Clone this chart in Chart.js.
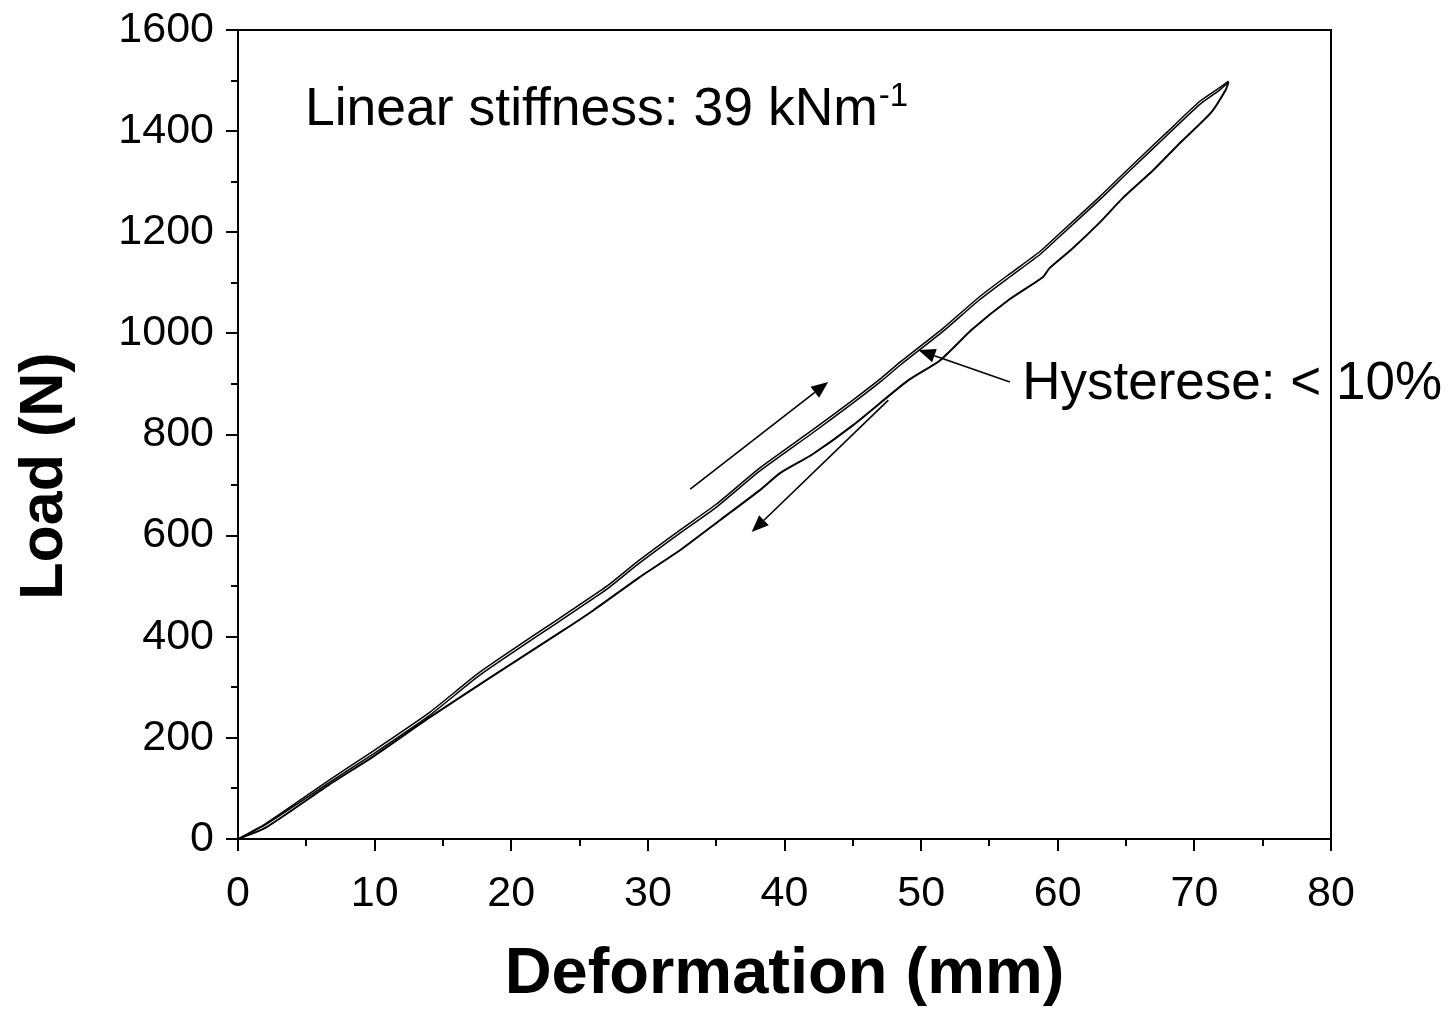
<!DOCTYPE html>
<html>
<head>
<meta charset="utf-8">
<script src="https://cdn.jsdelivr.net/npm/chart.js@4.4.1/dist/chart.umd.min.js"></script>
<style>
html, body { margin: 0; padding: 0; background: #fff; }
#contenedor { width: 1451px; height: 1014px; }
</style>
</head>
<body>
<div id="contenedor"><canvas id="grafico" width="1451" height="1014"></canvas></div>
<script>
// Carga (dos líneas casi superpuestas) - deformación en mm, carga en N
const deformacionCarga = [0, 2, 6.7, 10, 14, 17.7, 23.6, 27, 29.3, 32.4, 35, 38.2, 42, 45, 47.1, 48.5, 51.6, 54.3, 56.5, 58.7, 60.0, 63.1, 65.2, 68, 70.4, 71.8, 72.5];
const cargaA = [0, 30, 117, 176, 250, 330, 438, 500, 550, 612, 662, 734, 808, 868, 912, 944, 1010, 1073, 1118, 1162, 1194, 1271, 1326, 1398, 1459, 1485, 1499];
const cargaB = [0, 28, 112, 170, 244, 324, 432, 494, 544, 606, 656, 728, 802, 862, 906, 938, 1004, 1067, 1112, 1156, 1188, 1265, 1320, 1392, 1453, 1480, 1497];

// Descarga
const deformacionDescarga = [72.5, 72.3, 71.2, 69, 67.0, 64.7, 63.1, 61, 59.4, 58.9, 56.4, 53.7, 51.4, 49.0, 45, 42, 39.7, 38.2, 35.3, 32.4, 29.3, 26, 23.6, 18.4, 14, 10, 6.7, 2, 0];
const descarga = [1497, 1482, 1436, 1378, 1323, 1266, 1220, 1166, 1129, 1111, 1066, 1007, 947, 906, 818, 760, 724, 690, 631, 572, 516, 452, 409, 318, 240, 165, 108, 22, 0];

// Flechas de anotación (en unidades de datos): [x0, y0, x1, y1]
const flechas = [
    [33.1, 692, 43.2, 904],
    [47.6, 868, 37.6, 607],
    [56.5, 904, 49.8, 967]
];

const FUENTE = '"Liberation Sans", Arial, sans-serif';

function puntos(xs, ys) {
    return xs.map((x, i) => ({ x: x, y: ys[i] }));
}

function flecha(ctx, x0, y0, x1, y1) {
    const ang = Math.atan2(y1 - y0, x1 - x0);
    const largo = 17, ancho = 7;
    const bx = x1 - largo * Math.cos(ang);
    const by = y1 - largo * Math.sin(ang);
    ctx.beginPath();
    ctx.moveTo(x0, y0);
    ctx.lineTo(bx, by);
    ctx.stroke();
    ctx.beginPath();
    ctx.moveTo(x1, y1);
    ctx.lineTo(bx + ancho * Math.sin(ang), by - ancho * Math.cos(ang));
    ctx.lineTo(bx - ancho * Math.sin(ang), by + ancho * Math.cos(ang));
    ctx.closePath();
    ctx.fill();
}

const extras = {
    id: 'extras',
    afterDraw(chart) {
        const ctx = chart.ctx;
        const a = chart.chartArea;
        const x = chart.scales.x;
        const y = chart.scales.y;
        ctx.save();
        ctx.strokeStyle = '#000';
        ctx.fillStyle = '#000';

        // marco
        ctx.lineWidth = 2;
        ctx.strokeRect(a.left, a.top, a.right - a.left, a.bottom - a.top);

        // marcas de los ejes (mayores y menores)
        ctx.beginPath();
        for (let v = x.min; v <= x.max; v += 5) {
            const px = Math.round(x.getPixelForValue(v));
            const l = v % 10 === 0 ? 12 : 7;
            ctx.moveTo(px, a.bottom);
            ctx.lineTo(px, a.bottom + l);
        }
        for (let v = y.min; v <= y.max; v += 100) {
            const py = Math.round(y.getPixelForValue(v));
            const l = v % 200 === 0 ? 12 : 7;
            ctx.moveTo(a.left, py);
            ctx.lineTo(a.left - l, py);
        }
        ctx.stroke();

        // flechas
        ctx.lineWidth = 1.6;
        flechas.forEach(f => {
            flecha(ctx, x.getPixelForValue(f[0]), y.getPixelForValue(f[1]),
                x.getPixelForValue(f[2]), y.getPixelForValue(f[3]));
        });

        // textos
        ctx.textBaseline = 'alphabetic';
        ctx.textAlign = 'left';
        ctx.font = '53.5px ' + FUENTE;
        const tx = x.getPixelForValue(4.9);
        const ty = y.getPixelForValue(1412);
        const base = 'Linear stiffness: 39 kNm';
        ctx.fillText(base, tx, ty);
        const w = ctx.measureText(base).width;
        ctx.font = '33px ' + FUENTE;
        ctx.fillText('-1', tx + w + 1, ty - 19);

        ctx.font = '53px ' + FUENTE;
        ctx.fillText('Hysterese: < 10%', x.getPixelForValue(57.4), y.getPixelForValue(870));

        // título del eje Y
        ctx.save();
        ctx.translate(45, 476);
        ctx.rotate(-Math.PI / 2);
        ctx.textAlign = 'center';
        ctx.textBaseline = 'middle';
        ctx.font = 'bold 61px ' + FUENTE;
        ctx.fillText('Load (N)', 0, 0);
        ctx.restore();

        ctx.restore();
    }
};

const grafico = new Chart(document.getElementById('grafico'), {
    type: 'scatter',
    data: {
        datasets: [
            {
                label: 'Carga A',
                data: puntos(deformacionCarga, cargaA),
                showLine: true,
                borderColor: '#000',
                borderWidth: 1.5,
                pointRadius: 0,
                tension: 0.2
            },
            {
                label: 'Carga B',
                data: puntos(deformacionCarga, cargaB),
                showLine: true,
                borderColor: '#000',
                borderWidth: 1.5,
                pointRadius: 0,
                tension: 0.2
            },
            {
                label: 'Descarga',
                data: puntos(deformacionDescarga, descarga),
                showLine: true,
                borderColor: '#000',
                borderWidth: 2,
                pointRadius: 0,
                tension: 0.2
            }
        ]
    },
    options: {
        responsive: false,
        animation: false,
        devicePixelRatio: 1,
        layout: { padding: { left: 0, right: 120, top: 30, bottom: 0 } },
        plugins: {
            legend: { display: false },
            tooltip: { enabled: false }
        },
        scales: {
            x: {
                type: 'linear',
                min: 0,
                max: 80,
                grid: { display: false, drawTicks: false },
                border: { display: false },
                ticks: {
                    stepSize: 10,
                    padding: 29,
                    color: '#000',
                    font: { family: FUENTE, size: 43 },
                    maxRotation: 0,
                    callback: v => String(v)
                },
                title: {
                    display: true,
                    text: 'Deformation (mm)',
                    color: '#000',
                    font: { family: FUENTE, size: 65, weight: 'bold', lineHeight: 1 },
                    padding: { top: 0, bottom: 6 }
                },
                afterFit(scale) {
                    scale.height = 175;
                    scale.paddingLeft = 0;
                    scale.paddingRight = 0;
                }
            },
            y: {
                type: 'linear',
                min: 0,
                max: 1600,
                grid: { display: false, drawTicks: false },
                border: { display: false },
                ticks: {
                    stepSize: 200,
                    padding: 24,
                    color: '#000',
                    font: { family: FUENTE, size: 43 },
                    callback: v => String(v)
                },
                afterFit(scale) {
                    scale.width = 238;
                    scale.paddingTop = 0;
                    scale.paddingBottom = 0;
                }
            }
        }
    },
    plugins: [extras]
});
</script>
</body>
</html>
